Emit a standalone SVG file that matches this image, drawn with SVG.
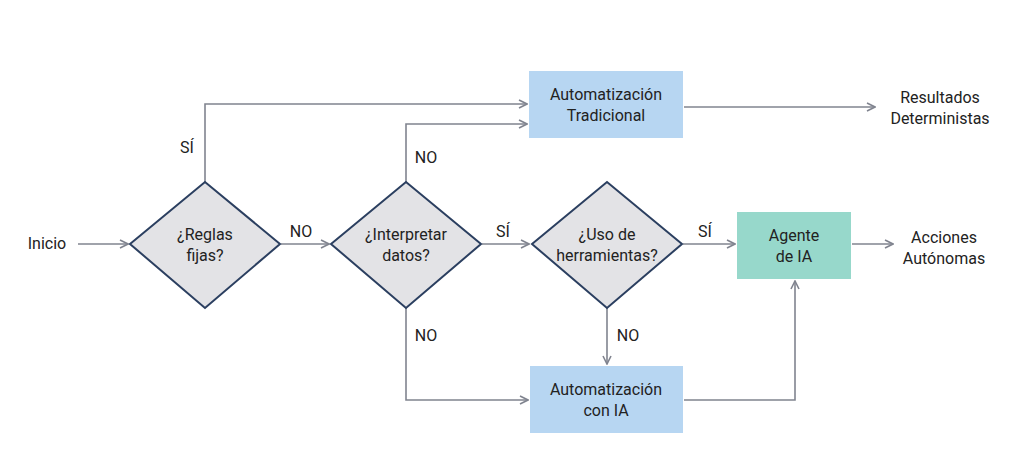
<svg xmlns="http://www.w3.org/2000/svg" width="1024" height="463" viewBox="0 0 1024 463">
<style>
text{font-family:Roboto,"Liberation Sans",sans-serif;font-size:16px;fill:#222;text-anchor:middle}
.d{fill:#e3e3e6;stroke:#2b3f60;stroke-width:2}
.b{fill:#b7d6f2}
.g{fill:#97d8cb}
.c path{fill:none;stroke:#80848f;stroke-width:1.6}
</style>
<defs><marker id="a" viewBox="0 0 10 10" refX="9" refY="5" markerWidth="10" markerHeight="10" markerUnits="userSpaceOnUse" orient="auto"><path d="M1,1 L9,5 L1,9" fill="none" stroke="#80848f" stroke-width="1.6"/></marker></defs>
<rect width="1024" height="463" fill="#fff"/>
<g class="c">
<path d="M78,244 H128" marker-end="url(#a)"/>
<path d="M281,244 H329" marker-end="url(#a)"/>
<path d="M482,244 H529" marker-end="url(#a)"/>
<path d="M683,244 H735" marker-end="url(#a)"/>
<path d="M852,244 H893" marker-end="url(#a)"/>
<path d="M205,182 V104 H527" marker-end="url(#a)"/>
<path d="M406,182 V124 H527" marker-end="url(#a)"/>
<path d="M406,308 V400 H528" marker-end="url(#a)"/>
<path d="M607,308 V364" marker-end="url(#a)"/>
<path d="M684,400 H795 V281" marker-end="url(#a)"/>
<path d="M684,107 H875" marker-end="url(#a)"/>
</g>
<g id="inicio"><text x="47" y="249">Inicio</text></g>
<g id="d1"><polygon class="d" points="130,244 205,182 280,244 205,308"/><text x="205" y="240">¿Reglas</text><text x="205" y="261">fijas?</text></g>
<g id="d2"><polygon class="d" points="331,244 406,182 481,244 406,308"/><text x="406" y="240">¿Interpretar</text><text x="406" y="261">datos?</text></g>
<g id="d3"><polygon class="d" points="532,244 607,182 682,244 607,308"/><text x="607" y="240">¿Uso de</text><text x="607" y="261">herramientas?</text></g>
<g id="trad"><rect class="b" x="529" y="71" width="154" height="67"/><text x="606" y="100">Automatización</text><text x="606" y="121">Tradicional</text></g>
<g id="agente"><rect class="g" x="737" y="212" width="114" height="67"/><text x="794" y="241">Agente</text><text x="794" y="262">de IA</text></g>
<g id="autoia"><rect class="b" x="530" y="366" width="153" height="67"/><text x="606" y="395">Automatización</text><text x="606" y="416">con IA</text></g>
<g id="res"><text x="940" y="103">Resultados</text><text x="940" y="124">Deterministas</text></g>
<g id="acc"><text x="944" y="243">Acciones</text><text x="944" y="264">Autónomas</text></g>
<g id="labels">
<text x="187" y="153">SÍ</text><text x="301" y="237">NO</text><text x="426" y="163">NO</text>
<text x="503" y="237">SÍ</text><text x="705" y="237">SÍ</text><text x="426" y="341">NO</text><text x="628" y="341">NO</text>
</g>
</svg>
